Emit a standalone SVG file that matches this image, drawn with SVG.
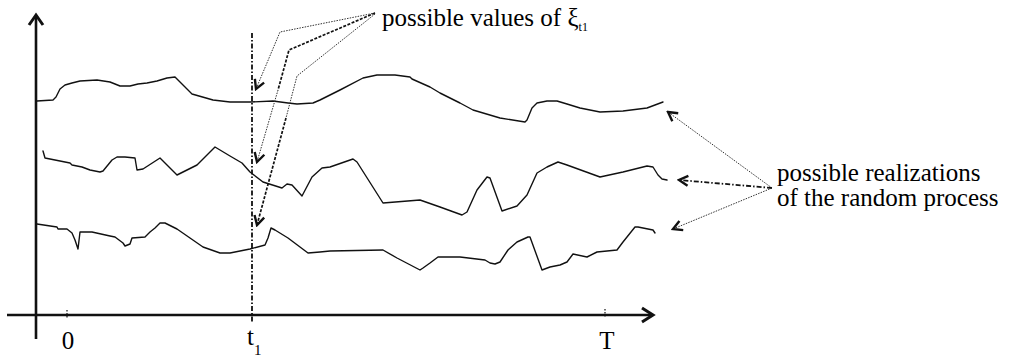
<svg xmlns="http://www.w3.org/2000/svg" width="1015" height="358" viewBox="0 0 1015 358">
<style>
.lbl{font-size:25px;fill:#000}
.curve{fill:none;stroke:#111;stroke-width:1.4;stroke-linejoin:round;stroke-linecap:round}
.axis{fill:none;stroke:#111;stroke-width:2.6}
.head{fill:none;stroke:#111;stroke-width:3;stroke-linejoin:miter}
.dot{fill:none;stroke:#333;stroke-width:1;stroke-dasharray:1.5 1.2}
.dash{fill:none;stroke:#111;stroke-width:1.7;stroke-dasharray:3 1.5}
.dashdot{fill:none;stroke:#111;stroke-width:1.8;stroke-dasharray:5 2 1.5 2}
</style>
<defs>
<marker id="vee" viewBox="-12 -7 14 14" refX="0" refY="0" markerWidth="14" markerHeight="14" markerUnits="userSpaceOnUse" orient="auto">
<path d="M-9,-5 L0,0 L-9,5" fill="none" stroke="#111" stroke-width="2.4"/>
</marker>
</defs>
<rect width="1015" height="358" fill="#fff"/>
<g id="axes">
<path class="axis" d="M36,16 V339"/>
<path class="head" d="M29,25 L36,15 L43,25"/>
<path class="axis" d="M7,315 H652"/>
<path class="head" d="M642,308 L653,315 L642,322"/>
<path d="M67,310 V318 M605,309 V318" stroke="#111" stroke-width="1.2" stroke-dasharray="1.5 1.5"/>
<path class="dashdot" d="M252,33 V322"/>
</g>
<g id="realization-1">
<path class="curve" d="M37,101 L53,100 L56,97 L60,89 L65,85 L72,83 L80,81 L97,80 L110,82 L115,84 L120,86 L130,86 L138,84 L147,83 L157,81 L167,78 L175,77 L177,79 L183,85 L192,94 L213,100 L230,102 L250,102 L273,101 L288,103 L297,104 L313,103 L320,100 L340,90 L363,78 L377,75 L395,75 L410,77 L412,79 L430,87 L440,93 L460,103 L473,110 L500,118 L525,122 L527,120 L532,108 L537,103 L547,101 L557,101 L567,104 L580,108 L600,112 L623,111 L647,108 L663,102"/>
</g>
<g id="realization-2">
<path class="curve" d="M43,151 L45,158 L70,163 L72,165 L82,167 L90,170 L100,172 L103,171 L112,160 L117,157 L125,157 L135,158 L137,170 L143,169 L160,158 L177,175 L197,165 L215,147 L230,156 L242,163 L250,172 L263,182 L282,188 L287,184 L292,185 L302,196 L312,177 L322,168 L330,167 L353,159 L357,162 L383,203 L420,200 L440,207 L462,215 L467,212 L477,190 L487,177 L490,178 L502,211 L517,206 L527,195 L537,173 L547,167 L558,162 L567,165 L600,177 L623,172 L647,166 L653,167 L658,175 L662,179 L667,180"/>
</g>
<g id="realization-3">
<path class="curve" d="M37,224 L57,227 L58,229 L67,229 L72,233 L75,240 L78,249 L80,232 L92,232 L110,236 L115,237 L123,243 L125,246 L130,244 L132,238 L145,237 L150,232 L155,228 L160,223 L165,223 L177,229 L203,247 L220,253 L230,253 L250,249 L265,245 L268,238 L271,228 L275,230 L288,238 L308,253 L320,252 L330,251 L383,250 L397,258 L420,270 L423,268 L430,263 L438,257 L460,257 L485,260 L490,263 L495,264 L500,262 L508,250 L517,242 L528,237 L530,237 L542,270 L550,267 L560,265 L567,262 L573,254 L587,257 L597,252 L617,250 L623,242 L635,227 L638,227 L653,230 L655,233"/>
</g>
<g font-family="Liberation Serif, Times New Roman, DejaVu Serif, serif">
<g id="label-values">
<text class="lbl" x="382" y="26" font-size="24">possible values of ξ<tspan font-size="12" dy="5">t1</tspan></text>
</g>
<g id="label-realizations">
<text class="lbl" x="777" y="181">possible realizations</text>
<text class="lbl" x="777" y="206">of the random process</text>
</g>
<g id="label-0"><text class="lbl" x="68" y="349" text-anchor="middle">0</text></g>
<g id="label-t1"><text class="lbl" x="247" y="345">t<tspan font-size="15" dy="10">1</tspan></text></g>
<g id="label-T"><text class="lbl" x="607" y="349" text-anchor="middle">T</text></g>
</g>
<g id="connectors">
<path class="dot" d="M375,13 L280,32 L256,89" marker-end="url(#vee)"/>
<path class="dash" d="M375,13 L289,50 L278,90"/>
<path class="dot" d="M278,90 L257,162" marker-end="url(#vee)"/>
<path class="dot" d="M375,14 L297,76 L286,118"/>
<path class="dash" d="M286,118 L257,225" marker-end="url(#vee)"/>
<path class="dot" d="M772,188 L668,112" marker-end="url(#vee)"/>
<path class="dashdot" d="M772,188 L679,180" marker-end="url(#vee)"/>
<path class="dot" d="M772,188 L673,229" marker-end="url(#vee)"/>
</g>
</svg>
